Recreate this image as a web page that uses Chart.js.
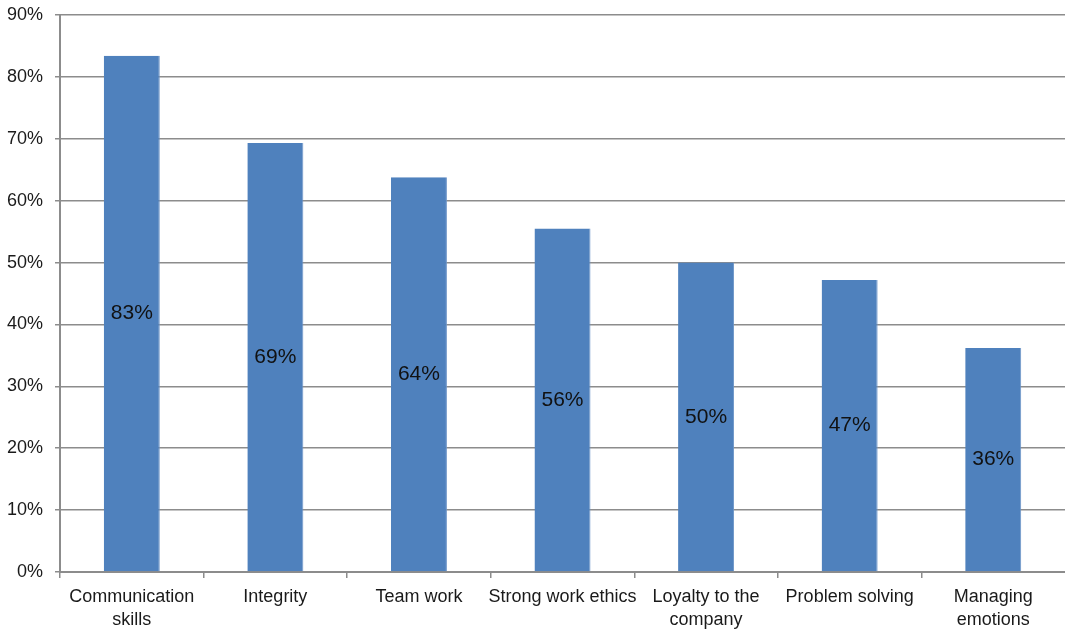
<!DOCTYPE html>
<html>
<head>
<meta charset="utf-8">
<script src="https://cdn.jsdelivr.net/npm/chart.js@4"></script>
<style>
    html, body { margin: 0; padding: 0; background: #fff; }
    #wrap { width: 1065px; height: 632px; }
</style>
</head>
<body>
<div id="wrap"><canvas id="skills-chart"></canvas></div>
<script>
const skills = [
    ['Communication', 'skills'],
    'Integrity',
    'Team work',
    'Strong work ethics',
    ['Loyalty to the', 'company'],
    'Problem solving',
    ['Managing', 'emotions']
];
const shares = [83.4, 69.3, 63.8, 55.5, 50.0, 47.2, 36.2];
const yTicks = [0, 10, 20, 30, 40, 50, 60, 70, 80, 90];

const FONT = "'Liberation Sans Narrow', 'Arial Narrow', 'Liberation Sans', sans-serif";
const GRID = '#8c8c8c';

// value text in the middle of each bar
const barLabels = {
    id: 'barLabels',
    afterDatasetsDraw(chart) {
        const ctx = chart.ctx;
        const meta = chart.getDatasetMeta(0);
        ctx.save();
        ctx.font = '21px ' + FONT;
        ctx.fillStyle = '#111';
        ctx.textAlign = 'center';
        ctx.textBaseline = 'middle';
        meta.data.forEach((bar, i) => {
            const mid = (bar.y + bar.base) / 2;
            ctx.fillText(Math.round(shares[i]) + '%', bar.x, mid);
        });
        ctx.restore();
    }
};

new Chart(document.getElementById('skills-chart'), {
    type: 'bar',
    data: {
        labels: skills,
        datasets: [{
            data: shares,
            backgroundColor: '#4f81bd',
            borderColor: '#6d95c8',
            borderWidth: { right: 1 },
            categoryPercentage: 1,
            barPercentage: 0.39
        }]
    },
    options: {
        responsive: true,
        maintainAspectRatio: false,
        animation: false,
        layout: { padding: { top: 15, right: 0, left: 0, bottom: 0 } },
        plugins: {
            legend: { display: false },
            tooltip: { enabled: false }
        },
        scales: {
            x: {
                afterFit: s => { s.height = 60; },
                grid: {
                    offset: true,
                    drawOnChartArea: false,
                    tickLength: 6,
                    // no tick mark at the far right end
                    color: c => c.type === 'tick' ? GRID : 'rgba(0,0,0,0)',
                    lineWidth: 1.5
                },
                border: { color: GRID, width: 2 },
                ticks: {
                    color: '#1a1a1a',
                    font: { family: FONT, size: 18, lineHeight: 1.3 },
                    padding: 7,
                    maxRotation: 0,
                    autoSkip: false
                }
            },
            y: {
                min: 0,
                max: 90,
                afterFit: s => { s.width = 60; s.paddingTop = 0; s.paddingBottom = 0; },
                afterBuildTicks: s => { s.ticks = yTicks.map(v => ({ value: v })); },
                grid: {
                    color: GRID,
                    lineWidth: 1.5,
                    tickLength: 5
                },
                border: { color: GRID, width: 2 },
                ticks: {
                    color: '#1a1a1a',
                    font: { family: FONT, size: 18 },
                    padding: 12,
                    callback: v => v + '%'
                }
            }
        }
    },
    plugins: [barLabels]
});
</script>
</body>
</html>
